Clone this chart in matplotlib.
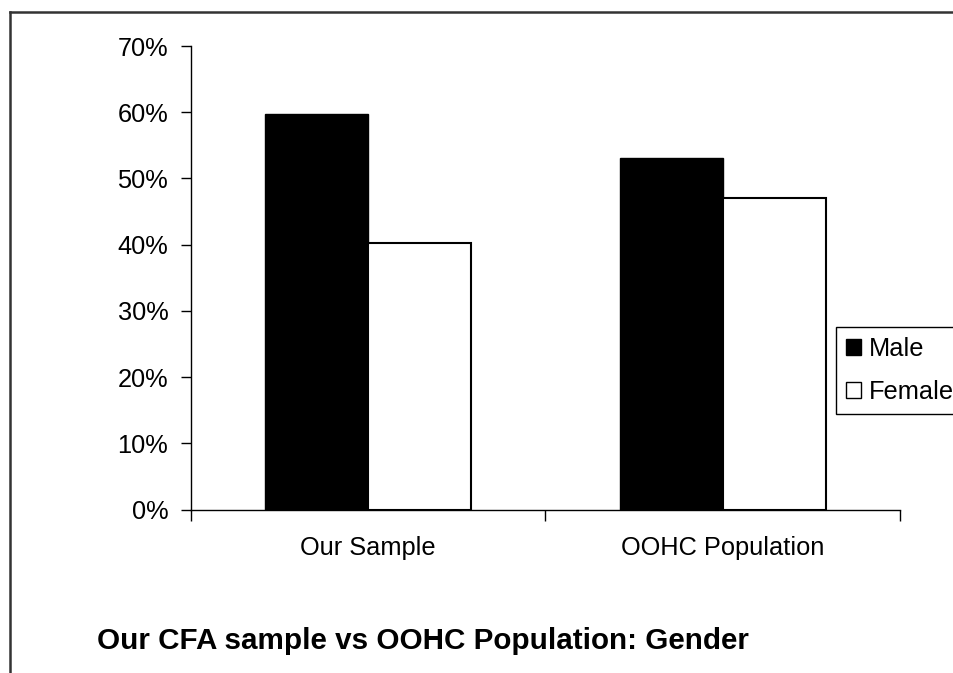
import numpy as np
import matplotlib
matplotlib.use("Agg")
import matplotlib.pyplot as plt
from matplotlib.lines import Line2D
from matplotlib.patches import Patch

plt.rcParams['font.family'] = ['Liberation Sans', 'DejaVu Sans']

# data
categories = ['Our Sample', 'OOHC Population']
male = [0.597, 0.531]
female = [0.403, 0.470]
series_names = ['Male', 'Female']
y_ticks = [0, 0.1, 0.2, 0.3, 0.4, 0.5, 0.6, 0.7]
title = 'Our CFA sample vs OOHC Population: Gender'

W, H = 954, 673
fig = plt.figure(figsize=(W / 100, H / 100), dpi=100)
ax = fig.add_axes([190.5 / W, 1 - 509.5 / H, (900 - 190.5) / W, (509.5 - 46) / H])

x = np.arange(len(categories))
bw = 0.29
ax.bar(x - bw / 2, male, bw, color='black', edgecolor='black', linewidth=1.0)
ax.bar(x + bw / 2, female, bw, color='white', edgecolor='black', linewidth=1.5)

ax.set_xlim(-0.5, len(categories) - 0.5)
ax.set_ylim(0, 0.7)
ax.set_yticks(y_ticks)
ax.set_yticklabels([f'{int(round(t * 100))}%' for t in y_ticks], fontsize=18.3)
ax.tick_params(axis='y', length=7, width=1, pad=9)

# ticks at category boundaries, labels at centres
ax.set_xticks(np.arange(len(categories) + 1) - 0.5)
ax.set_xticklabels([])
ax.tick_params(axis='x', which='major', length=8, width=1, direction='out')
ax.set_xticks(x, minor=True)
ax.set_xticklabels(categories, minor=True, fontsize=18.3)
ax.tick_params(axis='x', which='minor', length=0, pad=19)

for s in ['top', 'right']:
    ax.spines[s].set_visible(False)
for s in ['left', 'bottom']:
    ax.spines[s].set_linewidth(1.0)

handles = [Patch(facecolor='black', edgecolor='black'),
           Patch(facecolor='white', edgecolor='black')]
leg = fig.legend(handles, series_names, loc='upper left',
                 bbox_to_anchor=(836 / W, 1 - 327 / H), borderaxespad=0,
                 fontsize=18.3, handlelength=0.6, handleheight=0.6,
                 handletextpad=0.3, labelspacing=0.75, borderpad=0.4,
                 fancybox=False, framealpha=1)
leg.get_frame().set_edgecolor('black')
leg.get_frame().set_linewidth(1.0)

# outer frame
fig.add_artist(Line2D([10 / W, 10 / W], [0, 1 - 12 / H], transform=fig.transFigure,
                      color='#333333', lw=1.8))
fig.add_artist(Line2D([10 / W, 1], [1 - 12 / H, 1 - 12 / H], transform=fig.transFigure,
                      color='#333333', lw=1.8))

fig.text(97 / W, 1 - 641 / H, title, fontsize=21.3, fontweight='bold', va='center', ha='left')

fig.savefig('out.png', dpi=100)
